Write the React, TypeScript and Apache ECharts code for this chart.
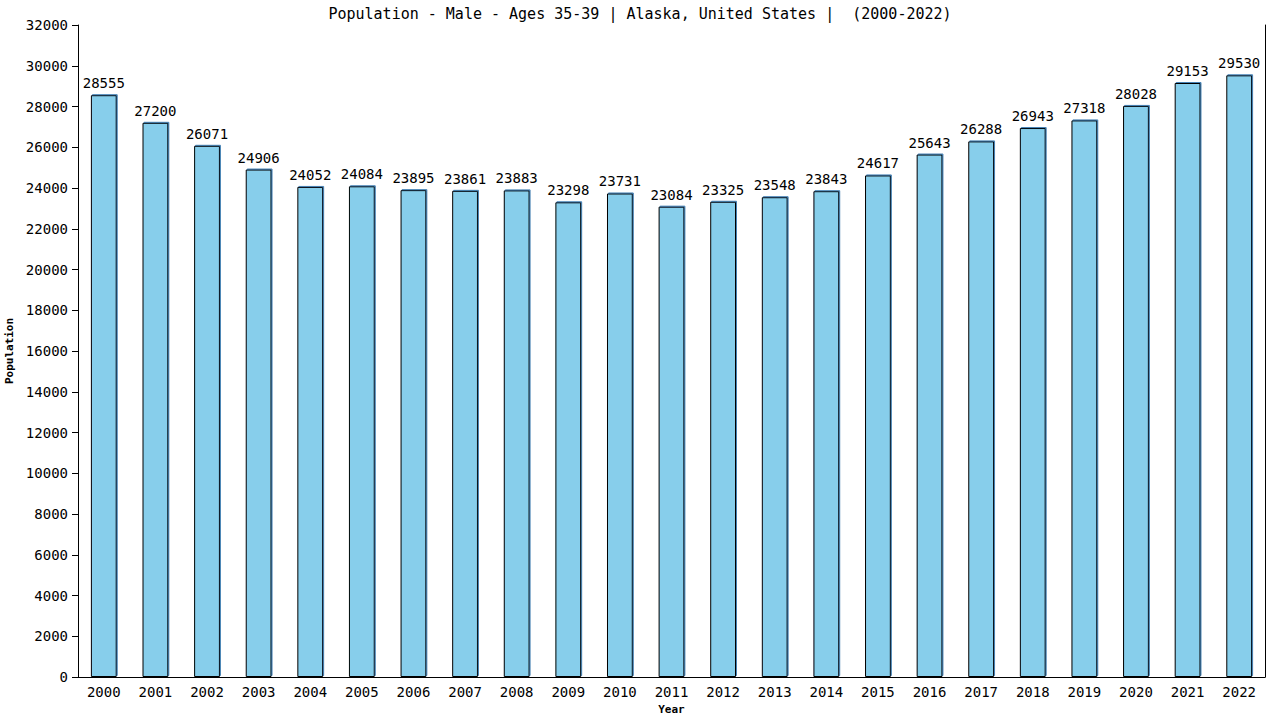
import React, { useEffect, useRef } from "react";
import * as echarts from "echarts";

const years = ["2000","2001","2002","2003","2004","2005","2006","2007","2008","2009","2010","2011","2012","2013","2014","2015","2016","2017","2018","2019","2020","2021","2022"];
const population = [28555,27200,26071,24906,24052,24084,23895,23861,23883,23298,23731,23084,23325,23548,23843,24617,25643,26288,26943,27318,28028,29153,29530];
const titleText = "Population - Male - Ages 35-39 | Alaska, United States |  (2000-2022)";

const FONT = "'DejaVu Sans Mono', monospace";

export default function App() {
  const ref = useRef<HTMLDivElement>(null);
  useEffect(() => {
    const chart = echarts.init(ref.current!, null, { renderer: "svg" });
    chart.setOption({
      animation: false,
      backgroundColor: "#ffffff",
      title: {
        text: titleText,
        left: "center",
        top: 1,
        textStyle: { fontFamily: FONT, fontSize: 15, fontWeight: "normal", color: "#000" },
      },
      grid: { left: 78, right: 15, top: 25, bottom: 43, show: false, containLabel: false, outerBoundsMode: "none" },
      xAxis: {
        type: "category",
        data: years,
        name: "Year",
        nameLocation: "middle",
        nameGap: 26,
        nameTextStyle: { fontFamily: FONT, fontSize: 11, fontWeight: "bold", color: "#000" },
        axisLine: { show: true, lineStyle: { color: "#000", width: 1 } },
        axisTick: { show: false },
        axisLabel: { fontFamily: FONT, fontSize: 14, color: "#000", margin: 8, interval: 0 },
      },
      yAxis: [
        {
          type: "value",
          min: 0,
          max: 32000,
          interval: 2000,
          name: "Population",
          nameLocation: "middle",
          nameGap: 60,
          nameTextStyle: { fontFamily: FONT, fontSize: 11, fontWeight: "bold", color: "#000" },
          axisLine: { show: true, lineStyle: { color: "#000", width: 1 } },
          axisTick: { show: true, length: 6, lineStyle: { color: "#000" } },
          axisLabel: { fontFamily: FONT, fontSize: 14, color: "#000", margin: 10, formatter: (v: number) => String(v) },
          splitLine: { show: false },
        },
        {
          type: "value",
          position: "right",
          min: 0,
          max: 32000,
          interval: 2000,
          axisLine: { show: true, lineStyle: { color: "#000", width: 1 } },
          axisTick: { show: false },
          axisLabel: { show: false },
          splitLine: { show: false },
        },
      ],
      series: [
        {
          type: "bar",
          data: population,
          barWidth: "50%",
          itemStyle: {
            color: "#87CEEB",
            borderColor: "#000",
            borderWidth: 1,
            shadowColor: "#4682B4",
            shadowOffsetX: 1,
            shadowOffsetY: -1,
            shadowBlur: 0,
          },
          label: {
            show: true,
            position: "top",
            distance: 5,
            fontFamily: FONT,
            fontSize: 14,
            color: "#000",
          },
        },
      ],
    });
    return () => chart.dispose();
  }, []);
  return <div ref={ref} style={{ position: "fixed", left: 0, top: 0, width: 1280, height: 720 }} />;
}
